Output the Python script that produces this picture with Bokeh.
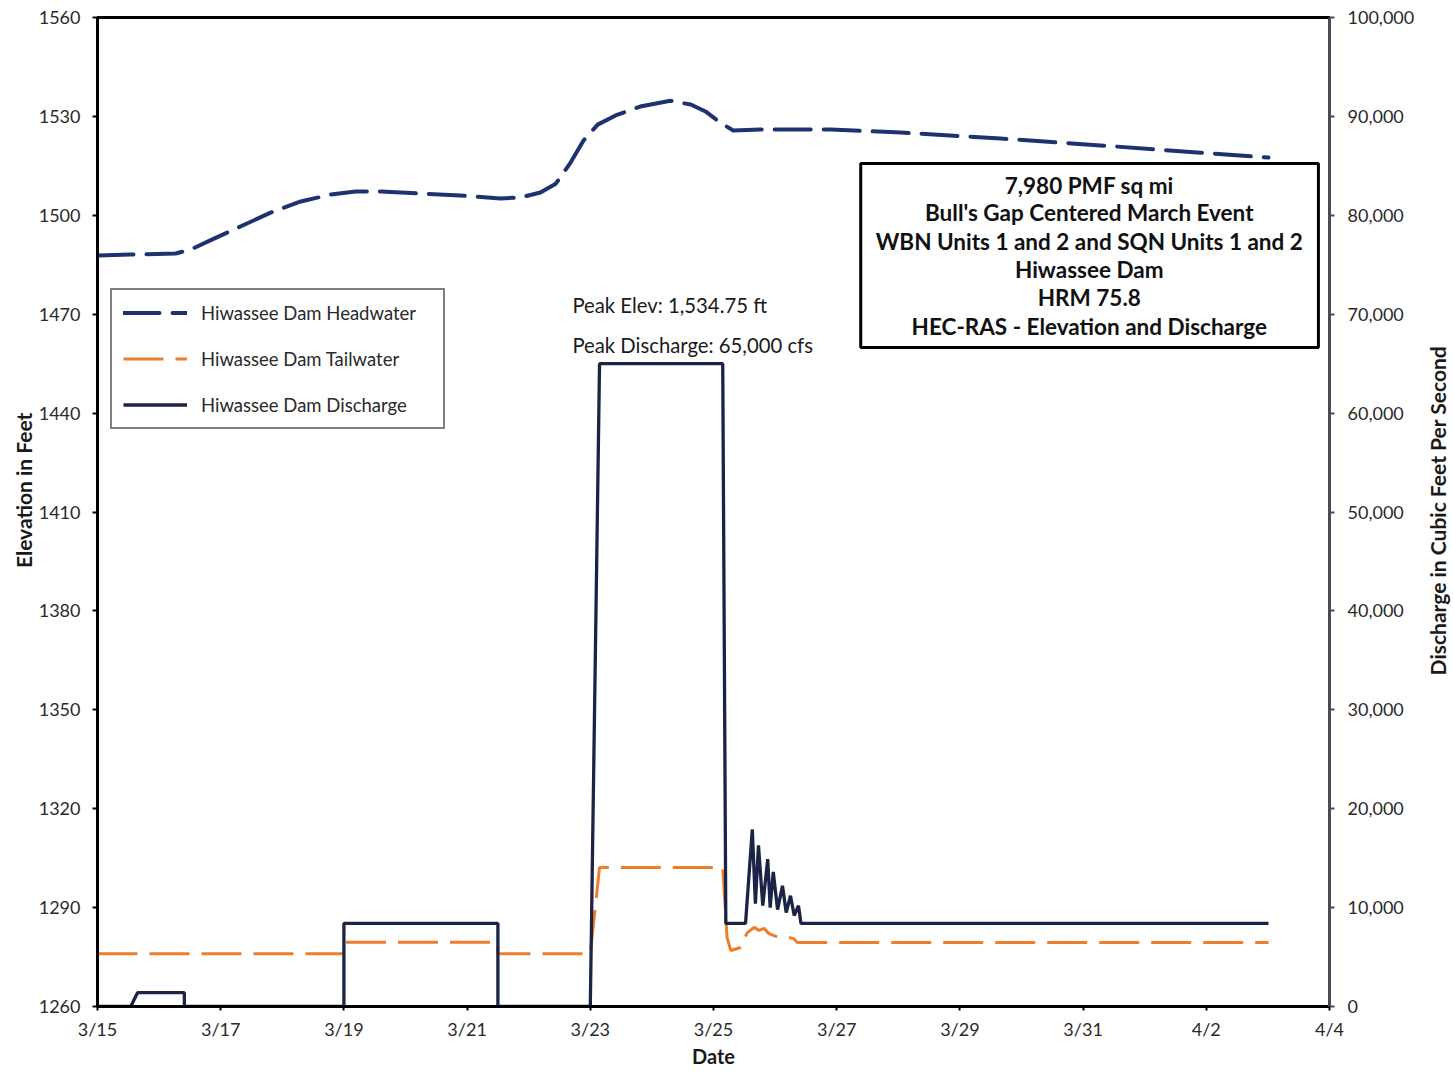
import math
from bokeh.plotting import figure
from bokeh.layouts import row
from bokeh.models import (Range1d, LinearAxis, FixedTicker, Legend, LegendItem,
                          Label, BoxAnnotation, NumeralTickFormatter)
from bokeh.embed import file_html
from bokeh.resources import INLINE

# time axis: days after 3/15 00:00
hw_day = [0.00, 0.54, 1.27, 1.51, 1.83, 2.32, 2.81, 3.30, 3.79, 4.19, 4.60, 5.24,
          5.89, 6.54, 6.87, 7.19, 7.44, 7.68, 7.89, 8.12, 8.41, 8.81, 9.30, 9.63,
          9.87, 10.11, 10.32, 10.76, 11.90, 13.04, 14.66, 16.28, 17.91, 19.01]
hw_elev = [1487.8, 1488.1, 1488.4, 1489.6, 1492.4, 1496.6, 1500.8, 1504.2, 1506.3,
           1507.2, 1507.2, 1506.6, 1506.0, 1505.1, 1505.4, 1506.9, 1509.6, 1516.0,
           1522.7, 1527.5, 1530.3, 1533.0, 1534.75, 1533.6, 1531.5, 1528.1, 1525.7,
           1526.0, 1526.0, 1525.1, 1523.3, 1521.2, 1519.0, 1517.5]

tw_day = [0.00, 4.00, 4.00, 6.50, 6.50, 8.00, 8.15, 10.15, 10.22, 10.28, 10.44, 10.50,
          10.55, 10.66, 10.74, 10.82, 10.90, 10.98, 11.06, 11.23, 11.30, 11.36, 19.01]
tw_elev = [1276.0, 1276.0, 1279.5, 1279.5, 1276.0, 1276.0, 1302.2, 1302.2, 1280.9,
           1277.0, 1277.9, 1280.6, 1282.4, 1284.0, 1283.1, 1283.7, 1282.1, 1281.5,
           1280.9, 1280.9, 1280.6, 1279.4, 1279.4]

q_day = [0.00, 0.54, 0.65, 1.41, 1.41, 4.00, 4.00, 6.50, 6.50, 8.00, 8.15, 10.15,
         10.20, 10.52, 10.63, 10.68, 10.73, 10.80, 10.88, 10.92, 10.97, 11.04, 11.12,
         11.18, 11.25, 11.31, 11.38, 11.42, 19.01]
q_cfs = [0, 0, 1400, 1400, 0, 0, 8400, 8400, 0, 0, 65000, 65000,
         8400, 8400, 17900, 10400, 16300, 10200, 14900, 10000, 13600, 9800, 12200,
         9500, 11200, 9200, 10200, 8400, 8400]

date_ticks = [0, 2, 4, 6, 8, 10, 12, 14, 16, 18, 20]
date_labels = ["3/15", "3/17", "3/19", "3/21", "3/23", "3/25", "3/27", "3/29",
               "3/31", "4/2", "4/4"]
elev_ticks = [1260, 1290, 1320, 1350, 1380, 1410, 1440, 1470, 1500, 1530, 1560]
q_ticks = [0, 10000, 20000, 30000, 40000, 50000, 60000, 70000, 80000, 90000, 100000]

series_names = ["Hiwassee Dam Headwater", "Hiwassee Dam Tailwater", "Hiwassee Dam Discharge"]
axis_titles = ["Date", "Elevation in Feet", "Discharge in Cubic Feet Per Second"]
box_lines = ["7,980 PMF sq mi", "Bull's Gap Centered March Event",
             "WBN Units 1 and 2 and SQN Units 1 and 2", "Hiwassee Dam",
             "HRM 75.8", "HEC-RAS - Elevation and Discharge"]
peak_notes = ["Peak Elev: 1,534.75 ft", "Peak Discharge: 65,000 cfs"]

FONT = "Lato"
NAVY = "#1f3270"
DARK = "#1b2347"
ORANGE = "#f07d2a"
LEFT_W = 35
RIGHT_W = 36

p = figure(width=1453 - LEFT_W - RIGHT_W, height=1075, output_backend="svg",
           toolbar_location=None,
           x_range=Range1d(0, 20), y_range=Range1d(1260, 1560),
           min_border_left=97 - LEFT_W, min_border_right=1453 - RIGHT_W - 1329,
           min_border_top=17, min_border_bottom=69, background_fill_color="white",
           border_fill_color="white")
p.extra_y_ranges = {"q": Range1d(0, 100000)}
p.xgrid.visible = False
p.ygrid.visible = False
p.outline_line_color = "black"
p.outline_line_width = 3

r_hw = p.line(hw_day, hw_elev, line_color=NAVY, line_width=4, line_dash="36 13",
              line_cap="round")
r_tw = p.line(tw_day, tw_elev, line_color=ORANGE, line_width=3, line_dash="40 12")
r_q = p.line(q_day, q_cfs, line_color=DARK, line_width=3.3, y_range_name="q")

# axes
xa = p.xaxis[0]
xa.ticker = FixedTicker(ticks=date_ticks)
xa.major_label_overrides = {t: l for t, l in zip(date_ticks, date_labels)}
xa.axis_label = axis_titles[0]
ya = p.yaxis[0]
ya.ticker = FixedTicker(ticks=elev_ticks)
ra = LinearAxis(y_range_name="q", ticker=FixedTicker(ticks=q_ticks),
                formatter=NumeralTickFormatter(format="0,0"))
p.add_layout(ra, "right")

for ax, col in ((xa, "black"), (ya, "black"), (ra, "#4a4a55")):
    ax.axis_line_color = col
    ax.axis_line_width = 3
    ax.major_tick_line_color = col
    ax.major_tick_line_width = 2
    ax.major_tick_out = 5
    ax.major_tick_in = 0
    ax.minor_tick_out = 0
    ax.minor_tick_in = 0
    ax.major_label_text_font = FONT
    ax.major_label_text_font_size = "18px"
    ax.major_label_text_color = "#2a2a2a"

xa.major_tick_out = 4
xa.major_label_standoff = 7
xa.axis_label_standoff = 1
xa.axis_label_text_font = FONT
xa.axis_label_text_font_size = "20px"
xa.axis_label_text_font_style = "bold"
xa.axis_label_text_color = "#1a1a1a"
ya.major_label_standoff = 12
ra.major_label_standoff = 13

legend = Legend(items=[LegendItem(label=series_names[0], renderers=[r_hw]),
                       LegendItem(label=series_names[1], renderers=[r_tw]),
                       LegendItem(label=series_names[2], renderers=[r_q])],
                location=(13, 577), padding=11, spacing=23, glyph_width=64,
                glyph_height=23, label_height=23, label_standoff=14, label_width=231,
                border_line_color="black", border_line_width=2,
                background_fill_color="white", background_fill_alpha=1,
                label_text_font=FONT, label_text_font_size="18.5px",
                label_text_color="#2a2a2a")
p.add_layout(legend, "center")

# peak notes
for txt, yv in zip(peak_notes, [1472.9, 1460.8]):
    p.add_layout(Label(x=7.71, y=yv, text=txt, text_font=FONT, text_font_size="20.3px",
                       text_baseline="middle", text_align="left",
                       text_color="#1a1a1a"))

# info box
p.add_layout(BoxAnnotation(left=12.39, right=19.82, bottom=1459.9, top=1515.7,
                           fill_color="white", fill_alpha=1, line_color="black",
                           line_width=3, line_alpha=1))
box_y = [1509.0, 1500.8, 1492.0, 1483.5, 1475.0, 1466.2]
for txt, yv in zip(box_lines, box_y):
    p.add_layout(Label(x=16.10, y=yv, text=txt, text_font=FONT, text_font_size="22.5px",
                       text_font_style="bold", text_baseline="middle",
                       text_align="center", text_color="#111111"))


def side_title(text, w, cx, cy_from_top):
    f = figure(width=w, height=1075, output_backend="svg", toolbar_location=None,
               x_range=Range1d(0, w), y_range=Range1d(0, 1075),
               x_axis_location=None, y_axis_location=None,
               min_border=0, min_border_left=0, min_border_right=0,
               min_border_top=0, min_border_bottom=0, outline_line_color=None,
               background_fill_color="white", border_fill_color="white")
    f.xgrid.visible = False
    f.ygrid.visible = False
    f.add_layout(Label(x=cx, y=1075 - cy_from_top, text=text, angle=math.pi / 2,
                       text_font=FONT, text_font_size="21px", text_font_style="bold",
                       text_color="#1a1a1a", text_align="center",
                       text_baseline="middle"))
    return f


left_t = side_title(axis_titles[1], LEFT_W, 23, 514)
right_t = side_title(axis_titles[2], RIGHT_W, 1437 - (1453 - RIGHT_W), 536)

layout = row(left_t, p, right_t, spacing=0)
open("out.html", "w").write(file_html(layout, INLINE))
